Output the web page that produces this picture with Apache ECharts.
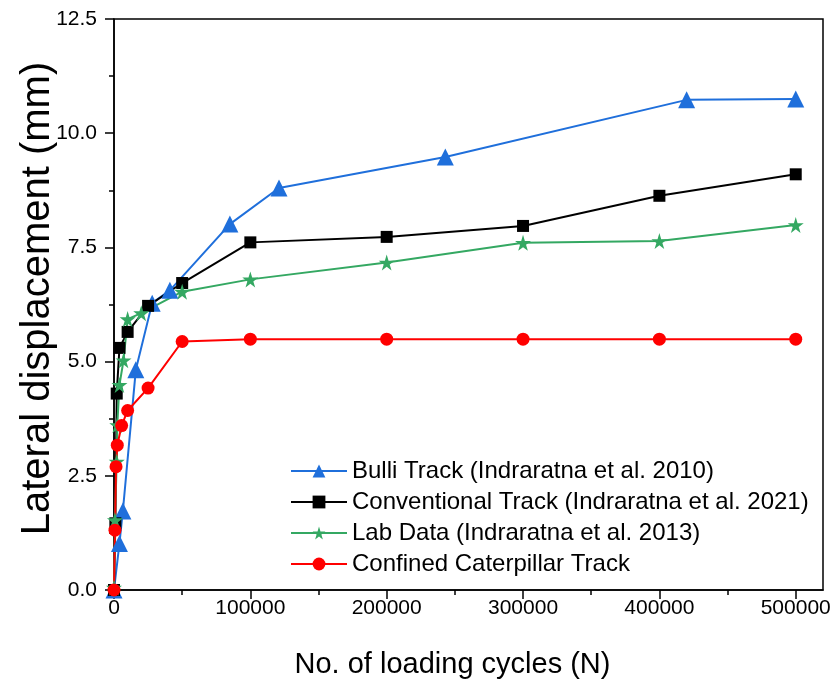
<!DOCTYPE html>
<html>
<head>
<meta charset="utf-8">
<script src="https://cdn.jsdelivr.net/npm/echarts@6/dist/echarts.min.js"></script>
<style>
  html, body { margin: 0; padding: 0; background: #fff; }
  #chart { width: 839px; height: 686px; }
</style>
</head>
<body>
<div id="chart"></div>
<script>
// Loading cycles (N) and lateral displacement (mm) for each track type
const bulliCycles = [0, 4000, 6500, 16000, 28000, 41000, 85000, 121000, 243000, 420000, 500000];
const bulliDisp   = [0, 1.02, 1.73, 4.82, 6.28, 6.56, 8.01, 8.80, 9.48, 10.73, 10.75];

const convCycles = [0, 1000, 2000, 4000, 10000, 25000, 50000, 100000, 200000, 300000, 400000, 500000];
const convDisp   = [0, 1.46, 4.30, 5.30, 5.65, 6.22, 6.72, 7.61, 7.73, 7.97, 8.63, 9.10];

const labCycles = [0, 700, 2000, 2400, 4000, 7000, 10000, 20000, 50000, 100000, 200000, 300000, 400000, 500000];
const labDisp   = [0.05, 1.53, 2.81, 3.61, 4.49, 5.03, 5.93, 6.06, 6.53, 6.80, 7.17, 7.60, 7.64, 7.99];

const capCycles = [0, 700, 1500, 2400, 5600, 10000, 25000, 50000, 100000, 200000, 300000, 400000, 500000];
const capDisp   = [0, 1.31, 2.70, 3.17, 3.60, 3.93, 4.42, 5.44, 5.49, 5.49, 5.49, 5.49, 5.49];

const seriesNames = [
  'Bulli Track (Indraratna et al. 2010)',
  'Conventional Track (Indraratna et al. 2021)',
  'Lab Data (Indraratna et al. 2013)',
  'Confined Caterpillar Track'
];

const xMajorTicks = [0, 100000, 200000, 300000, 400000, 500000];
const xMinorTicks = [50000, 150000, 250000, 350000, 450000];

const pairs = (xs, ys) => xs.map((x, i) => [x, ys[i]]);

const starPath = 'path://M50,0 L61,35 L98,35 L68,57 L79,91 L50,70 L21,91 L32,57 L2,35 L39,35 Z';
const FONT = 'Liberation Sans, Arial, sans-serif';

const chart = echarts.init(document.getElementById('chart'), null, { renderer: 'canvas' });

function makeSeries(name, data, color, symbol, size) {
  return {
    name: name,
    type: 'line',
    data: data,
    xAxisIndex: 0,
    yAxisIndex: 0,
    symbol: symbol,
    symbolSize: size,
    showAllSymbol: true,
    lineStyle: { color: color, width: 2 },
    itemStyle: { color: color, borderWidth: 0 },
    emphasis: { disabled: true },
    animation: false
  };
}

chart.setOption({
  backgroundColor: '#ffffff',
  animation: false,
  grid: {
    left: 114, right: 16, top: 19, bottom: 96,
    containLabel: false,
    outerBoundsMode: 'none',
    show: true, borderColor: '#000', borderWidth: 1.5, backgroundColor: 'transparent'
  },
  legend: {
    orient: 'vertical',
    left: 285,
    top: 454,
    itemWidth: 56,
    itemHeight: 16,
    itemGap: 7,
    textStyle: { fontFamily: FONT, fontSize: 24, color: '#000' },
    data: seriesNames
  },
  xAxis: [
    {
      type: 'value',
      min: 0, max: 520000,
      position: 'bottom',
      name: 'No. of loading cycles (N)',
      nameLocation: 'middle',
      nameGap: 60,
      nameMoveOverlap: false,
      nameTextStyle: { fontFamily: FONT, fontSize: 29, color: '#000', padding: [0, 32, 0, 0] },
      axisLine: { show: true, onZero: false, lineStyle: { color: '#000', width: 1.5 } },
      axisTick: { show: true, inside: false, length: 9, lineStyle: { color: '#000', width: 1.5 }, customValues: xMajorTicks },
      axisLabel: { fontFamily: FONT, fontSize: 21, color: '#000', margin: 8, customValues: xMajorTicks, formatter: v => String(v) },
      splitLine: { show: false }
    },
    {
      type: 'value',
      min: 0, max: 520000,
      position: 'bottom',
      axisLine: { show: false },
      axisTick: { show: true, inside: false, length: 5, lineStyle: { color: '#000', width: 1.5 }, customValues: xMinorTicks },
      axisLabel: { show: false },
      splitLine: { show: false }
    }
  ],
  yAxis: {
    type: 'value',
    min: 0, max: 12.5, interval: 2.5,
    name: 'Lateral displacement (mm)',
    nameLocation: 'middle',
    nameGap: 56,
    nameMoveOverlap: false,
    nameTextStyle: { fontFamily: FONT, fontSize: 40, color: '#000', padding: [0, 0, 0, 12] },
    axisLine: { show: true, onZero: false, lineStyle: { color: '#000', width: 1.5 } },
    axisTick: { show: true, inside: false, length: 9, lineStyle: { color: '#000', width: 1.5 } },
    minorTick: { show: true, splitNumber: 2, length: 5, lineStyle: { color: '#000', width: 1.5 } },
    axisLabel: { fontFamily: FONT, fontSize: 21, color: '#000', margin: 17, formatter: v => v.toFixed(1) },
    splitLine: { show: false }
  },
  series: [
    makeSeries(seriesNames[0], pairs(bulliCycles, bulliDisp), '#1F6FDB', 'triangle', 17),
    makeSeries(seriesNames[1], pairs(convCycles, convDisp), '#000000', 'rect', 12),
    makeSeries(seriesNames[2], pairs(labCycles, labDisp), '#34A862', starPath, 16),
    makeSeries(seriesNames[3], pairs(capCycles, capDisp), '#FF0000', 'circle', 13)
  ]
});
</script>
</body>
</html>
